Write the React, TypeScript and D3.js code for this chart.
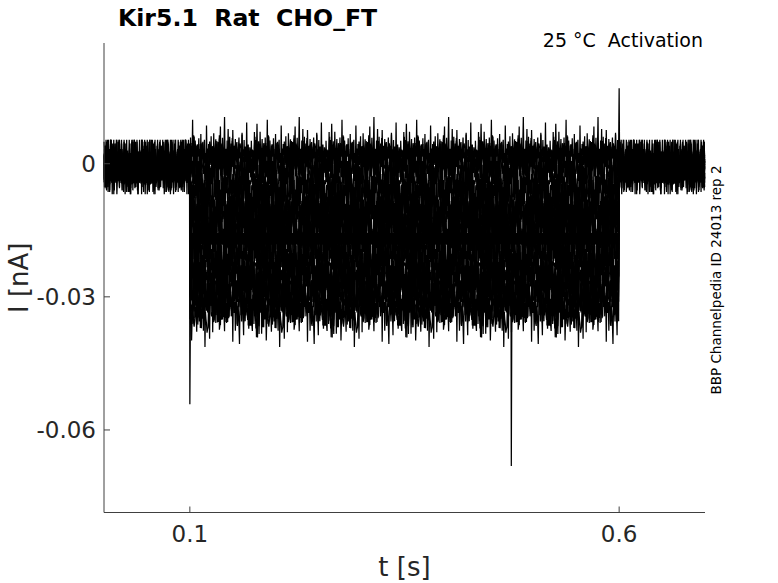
import React from 'react';
import * as d3 from 'd3';

// step protocol (s)
const stepOn = 0.1;
const stepOff = 0.6;
const sampleDt = 0.0006;

// holding current before/after the step and steady level of each sweep during it (nA)
const holdingLevel = -0.0008;
const stepLevels = [
  0.002, 0.0005, -0.0015, -0.004, -0.006, -0.0085, -0.011, -0.013, -0.015,
  -0.0175, -0.02, -0.022, -0.024, -0.0265, -0.028, -0.03, -0.0315, -0.033,
];

// noise amplitude outside / inside the step (nA)
const baseNoise = 0.0062;
const stepNoise = 0.0085;

// recorded noise pattern (normalised), read by each sweep at its own stride
const noiseTable = [
  0.12, -0.31, 0.22, 0.48, -0.15, -0.41, 0.04, 0.27, -0.72, 0.18, 0.36, -0.08,
  -0.25, 0.61, -0.03, -0.39, 0.13, 0.42, -0.21, -0.55, 0.31, 0.06, -0.17, 0.46,
  -0.35, 0.24, -0.05, 0.93, -0.29, -0.11, 0.15, -0.47, 0.38, 0.09, -0.24, -0.84,
  0.28, 0.2, -0.04, 0.44, -0.32, 0.01, -0.18, 0.55, -0.41, 0.12, 0.32, -0.1,
  -0.51, 0.25, 0.4, -0.22, 0.05, -0.37, 0.78, -0.14, 0.17, -0.56, 0.29, -0.02,
  0.35, -0.27, -0.07, 0.49, -0.45, 0.11, 0.23, -0.34, 0.57, -0.13, -0.3, 0.19,
  0.41, -0.98, 0.07, -0.19, 0.34, -0.42, 0.14, 0.52, -0.24, -0.06, 0.3, -0.49,
  0.02, 0.45, -0.16, -0.36, 0.26, 1.0, -0.09, -0.4, 0.16, -0.28, 0.38, -0.57,
  0.21, 0.05, -0.23, 0.48, -0.12, -0.46, 0.3, 0.1, -0.32, 0.66, -0.01, -0.52,
  0.24, -0.15, 0.42, -0.38, 0.09, 0.34, -0.21, -0.76, 0.18, 0.46, -0.09, 0.28,
  -0.44, 0.04, -0.26, 0.54, -0.34, 0.15, -0.05, 0.39, -0.63, 0.22, 0.11, -0.19,
  0.86, -0.33, 0.08, 0.27, -0.14, -0.48, 0.2, 0.03, -0.6, 0.37, -0.07, 0.14, -0.9,
];
const noiseStrides = [1, 7, 13, 3, 11, 17, 5, 19, 23, 29, 2, 31, 37, 9, 41, 43, 47, 53];
const noiseOffsets = [0, 40, 85, 12, 63, 101, 27, 77, 5, 118, 50, 93, 34, 70, 19, 110, 58, 125];

// single-sample transients
const spikes = [
  { sweep: 17, t: 0.1, value: -0.0542 },
  { sweep: 0, t: 0.6, value: 0.017 },
  { sweep: 9, t: 0.4744, value: -0.0681 },
];

const xTicks = [0.1, 0.6];
const yTicks = [-0.06, -0.03, 0];
const yTickLabels = ['-0.06', '-0.03', '0'];

const W = 778;
const H = 583;
const plot = { left: 104, right: 705, top: 43, bottom: 512.5 };
const axisColor = '#404040';
const textColor = '#262626';
const font = 'DejaVu Sans, sans-serif';

const App: React.FC = () => {
  const x = d3.scaleLinear().domain([0, 0.7]).range([plot.left, plot.right]);
  const y = d3.scaleLinear().domain([-0.0786, 0.0272]).range([plot.bottom, plot.top]);

  const times = d3.range(0, 0.7 + 1e-9, sampleDt);
  const L = noiseTable.length;

  const sweeps = stepLevels.map((level, i) => {
    const pts = times.map((t, k) => {
      const inStep = t >= stepOn && t < stepOff;
      const n = noiseTable[(noiseOffsets[i] + k * noiseStrides[i]) % L];
      return [t, (inStep ? level : holdingLevel) + (inStep ? stepNoise : baseNoise) * n] as [number, number];
    });
    spikes
      .filter(s => s.sweep === i)
      .forEach(s => {
        const k = Math.round(s.t / sampleDt);
        pts[k] = [s.t, s.value];
      });
    return pts;
  });

  const line = d3.line<[number, number]>()
    .x(d => x(d[0]))
    .y(d => y(d[1]));

  return (
    <div style={{ position: 'absolute', left: 0, top: 0 }}>
      <svg width={W} height={H} style={{ display: 'block', background: '#fff' }}>
        {sweeps.map((s, i) => (
          <path key={i} d={line(s) ?? ''} fill="none" stroke="#000" strokeWidth={1.25} />
        ))}

        {/* axes */}
        <line x1={plot.left} x2={plot.right} y1={plot.bottom} y2={plot.bottom} stroke={axisColor} strokeWidth={1} />
        <line x1={plot.left} x2={plot.left} y1={plot.top} y2={plot.bottom} stroke={axisColor} strokeWidth={1} />
        {xTicks.map(t => (
          <g key={t}>
            <line x1={x(t)} x2={x(t)} y1={plot.bottom} y2={plot.bottom - 6} stroke={axisColor} />
            <text x={x(t)} y={542} textAnchor="middle" fontSize={23} fontFamily={font} fill={textColor}>
              {t}
            </text>
          </g>
        ))}
        {yTicks.map((t, i) => (
          <g key={t}>
            <line x1={plot.left} x2={plot.left + 6} y1={y(t)} y2={y(t)} stroke={axisColor} />
            <text x={96} y={y(t)} dy="0.35em" textAnchor="end" fontSize={23} fontFamily={font} fill={textColor}>
              {yTickLabels[i]}
            </text>
          </g>
        ))}

        <text x={(plot.left + plot.right) / 2} y={576} textAnchor="middle" fontSize={26} fontFamily={font} fill={textColor}>
          t [s]
        </text>
        <text transform={`translate(28,${(plot.top + plot.bottom) / 2}) rotate(-90)`} textAnchor="middle" fontSize={26} fontFamily={font} fill={textColor}>
          I [nA]
        </text>

        <text x={118} y={26} fontSize={23.6} fontWeight="bold" fontFamily={font} fill="#000" style={{ whiteSpace: 'pre' }}>
          {'Kir5.1  Rat  CHO_FT'}
        </text>
        <text x={703} y={47} textAnchor="end" fontSize={19} fontFamily={font} fill="#000" style={{ whiteSpace: 'pre' }}>
          {'25 °C  Activation'}
        </text>
        <text transform="translate(721,280) rotate(-90)" textAnchor="middle" fontSize={13.5} fontFamily={font} fill="#000">
          BBP Channelpedia ID 24013 rep 2
        </text>
      </svg>
    </div>
  );
};

export default App;
